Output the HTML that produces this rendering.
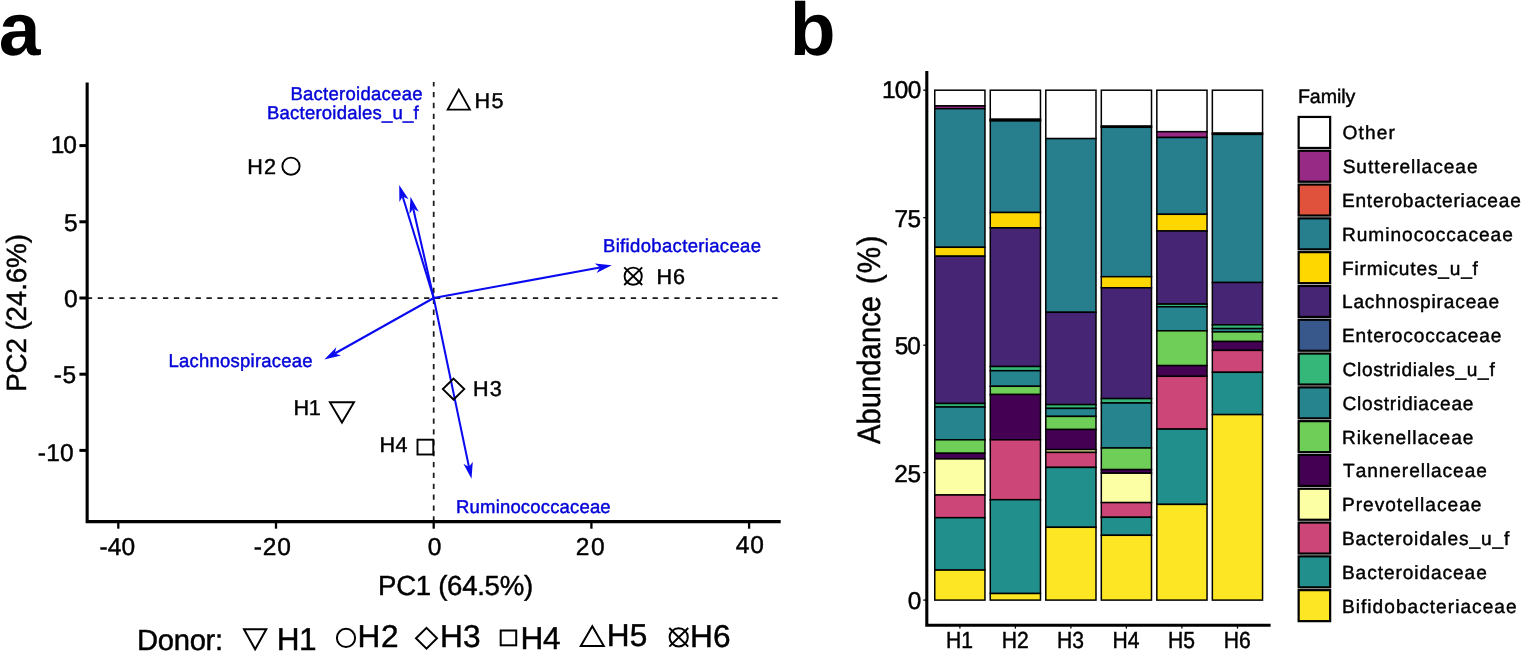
<!DOCTYPE html>
<html lang="en"><head><meta charset="utf-8"><title>Figure: PCA biplot and family abundance</title>
<style>
html,body{margin:0;padding:0;background:#fff;}
body{width:1522px;height:651px;overflow:hidden;}
svg{display:block;}
text{font-family:"Liberation Sans", Arial, Helvetica, sans-serif;fill:#000;white-space:pre;text-rendering:geometricPrecision;font-kerning:none;}
</style></head><body>
<svg width="1522" height="651" viewBox="0 0 1522 651">
<rect x="0" y="0" width="1522" height="651" fill="#fff"/>
<g id="panel-a">
<text x="-1.20" y="55.00" style="font-size:75px;font-weight:bold;">a</text>
<line x1="86.8" y1="298.0" x2="778.8" y2="298.0" stroke="#1a1a1a" stroke-width="1.75" stroke-dasharray="5.3 5.58"/>
<line x1="433.7" y1="521.6" x2="433.7" y2="81.9" stroke="#1a1a1a" stroke-width="1.75" stroke-dasharray="5.3 5.58"/>
<path d="M87.15 82.4 V521.60 H780.7" fill="none" stroke="#000" stroke-width="3.1" stroke-linejoin="miter" stroke-linecap="butt"/>
<line x1="79.4" y1="145.6" x2="87.2" y2="145.6" stroke="#000" stroke-width="3"/>
<text x="50.63" y="153.00" style="font-size:24.5px;letter-spacing:-1.028px;stroke:#000;stroke-width:0.45px;">10</text>
<line x1="79.4" y1="221.8" x2="87.2" y2="221.8" stroke="#000" stroke-width="3"/>
<text x="63.92" y="231.00" style="font-size:24.5px;stroke:#000;stroke-width:0.45px;">5</text>
<line x1="79.4" y1="298.0" x2="87.2" y2="298.0" stroke="#000" stroke-width="3"/>
<text x="63.94" y="307.00" style="font-size:24.5px;stroke:#000;stroke-width:0.45px;">0</text>
<line x1="79.4" y1="374.2" x2="87.2" y2="374.2" stroke="#000" stroke-width="3"/>
<text x="53.81" y="383.00" style="font-size:24.5px;letter-spacing:0.633px;stroke:#000;stroke-width:0.45px;">-5</text>
<line x1="79.4" y1="450.4" x2="87.2" y2="450.4" stroke="#000" stroke-width="3"/>
<text x="37.71" y="461.00" style="font-size:24.5px;letter-spacing:0.318px;stroke:#000;stroke-width:0.45px;">-10</text>
<line x1="118.3" y1="521.6" x2="118.3" y2="528.7" stroke="#000" stroke-width="2.3"/>
<text x="99.51" y="555.00" style="font-size:24.5px;letter-spacing:0.118px;stroke:#000;stroke-width:0.45px;">-40</text>
<line x1="276.0" y1="521.6" x2="276.0" y2="528.7" stroke="#000" stroke-width="2.3"/>
<text x="253.81" y="555.00" style="font-size:24.5px;letter-spacing:0.818px;stroke:#000;stroke-width:0.45px;">-20</text>
<line x1="433.7" y1="521.6" x2="433.7" y2="528.7" stroke="#000" stroke-width="2.3"/>
<text x="427.74" y="555.00" style="font-size:24.5px;stroke:#000;stroke-width:0.45px;">0</text>
<line x1="591.4" y1="521.6" x2="591.4" y2="528.7" stroke="#000" stroke-width="2.3"/>
<text x="575.87" y="555.00" style="font-size:24.5px;letter-spacing:1.638px;stroke:#000;stroke-width:0.45px;">20</text>
<line x1="749.1" y1="521.6" x2="749.1" y2="528.7" stroke="#000" stroke-width="2.3"/>
<text x="735.74" y="553.00" style="font-size:24.5px;letter-spacing:0.968px;stroke:#000;stroke-width:0.45px;">40</text>
<text x="378.04" y="595.00" style="font-size:27.6px;letter-spacing:-0.292px;stroke:#000;stroke-width:0.45px;">PC1 (64.5%)</text>
<text transform="translate(25.50 391.78) rotate(-90)" style="font-size:27.8px;letter-spacing:-0.144px;stroke:#000;stroke-width:0.45px;">PC2 (24.6%)</text>
<line x1="433.7" y1="298.0" x2="402.7" y2="196.5" stroke="#0a0af0" stroke-width="2.05"/>
<polygon points="399.2,185.0 408.6,199.3 402.7,196.5 399.4,202.1" fill="#0a0af0"/>
<line x1="433.7" y1="298.0" x2="413.2" y2="208.5" stroke="#0a0af0" stroke-width="2.05"/>
<polygon points="410.5,196.8 418.8,211.7 413.2,208.5 409.5,213.9" fill="#0a0af0"/>
<line x1="433.7" y1="298.0" x2="600.0" y2="267.5" stroke="#0a0af0" stroke-width="2.05"/>
<polygon points="611.8,265.3 596.5,273.0 600.0,267.5 594.8,263.5" fill="#0a0af0"/>
<line x1="433.7" y1="298.0" x2="334.8" y2="353.5" stroke="#0a0af0" stroke-width="2.05"/>
<polygon points="324.3,359.4 336.3,347.2 334.8,353.5 341.0,355.6" fill="#0a0af0"/>
<line x1="433.7" y1="298.0" x2="469.0" y2="467.1" stroke="#0a0af0" stroke-width="2.05"/>
<polygon points="471.5,478.8 463.4,463.7 469.0,467.1 472.8,461.8" fill="#0a0af0"/>
<text x="290.38" y="100.00" style="font-size:18.5px;letter-spacing:0.275px;fill:#0404d8;stroke:#0404d8;stroke-width:0.45px;">Bacteroidaceae</text>
<text x="266.98" y="119.00" style="font-size:18.5px;letter-spacing:0.224px;fill:#0404d8;stroke:#0404d8;stroke-width:0.45px;">Bacteroidales_u_f</text>
<text x="602.98" y="252.00" style="font-size:18.5px;letter-spacing:0.343px;fill:#0404d8;stroke:#0404d8;stroke-width:0.45px;">Bifidobacteriaceae</text>
<text x="168.48" y="367.00" style="font-size:18.5px;letter-spacing:0.231px;fill:#0404d8;stroke:#0404d8;stroke-width:0.45px;">Lachnospiraceae</text>
<text x="456.08" y="513.00" style="font-size:18.5px;letter-spacing:0.168px;fill:#0404d8;stroke:#0404d8;stroke-width:0.45px;">Ruminococcaceae</text>
<polygon points="329.9,402.3 354.0,402.3 341.95,422.6" fill="none" stroke="#000" stroke-width="1.9" stroke-linejoin="miter"/>
<text x="293.43" y="415.00" style="font-size:21.6px;letter-spacing:-0.185px;stroke:#000;stroke-width:0.45px;">H1</text>
<circle cx="291" cy="166.2" r="8.6" fill="none" stroke="#000" stroke-width="1.9"/>
<text x="247.23" y="174.00" style="font-size:21.6px;letter-spacing:1.146px;stroke:#000;stroke-width:0.45px;">H2</text>
<polygon points="453.55,378.65 464.25,389.1 453.55,399.55 442.85,389.1" fill="none" stroke="#000" stroke-width="1.9"/>
<text x="473.03" y="396.00" style="font-size:21.6px;letter-spacing:1.209px;stroke:#000;stroke-width:0.45px;">H3</text>
<rect x="417.5" y="439.7" width="15.8" height="14.8" fill="none" stroke="#000" stroke-width="1.9"/>
<text x="379.53" y="452.00" style="font-size:21.6px;letter-spacing:0.393px;stroke:#000;stroke-width:0.45px;">H4</text>
<polygon points="447.7,109.6 469.9,109.6 458.8,89.6" fill="none" stroke="#000" stroke-width="1.9" stroke-linejoin="miter"/>
<text x="474.53" y="108.00" style="font-size:21.6px;letter-spacing:1.367px;stroke:#000;stroke-width:0.45px;">H5</text>
<circle cx="633.2" cy="276.2" r="8.6" fill="none" stroke="#000" stroke-width="1.9"/>
<path d="M624.2 267.4 L642.2 285 M642.2 267.4 L624.2 285" fill="none" stroke="#000" stroke-width="1.9"/>
<text x="656.43" y="284.00" style="font-size:21.6px;letter-spacing:1.009px;stroke:#000;stroke-width:0.45px;">H6</text>
<text x="137.10" y="650.00" style="font-size:29.2px;letter-spacing:-0.316px;stroke:#000;stroke-width:0.45px;">Donor:</text>
<polygon points="244,629.3 266.3,629.3 255.15,649.3" fill="none" stroke="#000" stroke-width="2.0"/>
<text x="276.71" y="650.00" style="font-size:31.6px;letter-spacing:-0.600px;stroke:#000;stroke-width:0.45px;">H1</text>
<circle cx="346" cy="637.9" r="9.1" fill="none" stroke="#000" stroke-width="2.0"/>
<text x="357.61" y="647.00" style="font-size:31.6px;letter-spacing:0.587px;stroke:#000;stroke-width:0.45px;">H2</text>
<polygon points="426.5,627.9 437.0,638.3 426.5,648.7 416.0,638.3" fill="none" stroke="#000" stroke-width="2.0"/>
<text x="440.01" y="647.00" style="font-size:31.6px;letter-spacing:0.186px;stroke:#000;stroke-width:0.45px;">H3</text>
<rect x="500.7" y="630.5" width="15.5" height="14.8" fill="none" stroke="#000" stroke-width="2.0"/>
<text x="520.41" y="649.00" style="font-size:31.6px;letter-spacing:-0.277px;stroke:#000;stroke-width:0.45px;">H4</text>
<polygon points="580.8,645.9 603.8,645.9 592.3,626.3" fill="none" stroke="#000" stroke-width="2.0"/>
<text x="606.71" y="646.00" style="font-size:31.6px;letter-spacing:0.224px;stroke:#000;stroke-width:0.45px;">H5</text>
<circle cx="678.7" cy="637.3" r="9.1" fill="none" stroke="#000" stroke-width="2.0"/>
<path d="M669.3 628 L688.2 646.6 M688.2 628 L669.3 646.6" fill="none" stroke="#000" stroke-width="2.0"/>
<text x="690.01" y="647.00" style="font-size:31.6px;letter-spacing:0.186px;stroke:#000;stroke-width:0.45px;">H6</text>
</g>
<g id="panel-b">
<text x="789.66" y="55.00" style="font-size:75px;font-weight:bold;">b</text>
<g id="bar-H1">
<rect x="934.75" y="90.20" width="50.20" height="15.70" fill="#ffffff" stroke="#000" stroke-width="1.5"/>
<rect x="934.75" y="105.90" width="50.20" height="2.80" fill="#962a84" stroke="#000" stroke-width="1.5"/>
<rect x="934.75" y="108.70" width="50.20" height="138.60" fill="#277f8e" stroke="#000" stroke-width="1.5"/>
<rect x="934.75" y="247.30" width="50.20" height="8.90" fill="#ffd700" stroke="#000" stroke-width="1.5"/>
<rect x="934.75" y="256.20" width="50.20" height="147.30" fill="#472575" stroke="#000" stroke-width="1.5"/>
<rect x="934.75" y="403.50" width="50.20" height="3.50" fill="#35b779" stroke="#000" stroke-width="1.5"/>
<rect x="934.75" y="407.00" width="50.20" height="32.80" fill="#25848e" stroke="#000" stroke-width="1.5"/>
<rect x="934.75" y="439.80" width="50.20" height="13.50" fill="#6ece58" stroke="#000" stroke-width="1.5"/>
<rect x="934.75" y="453.30" width="50.20" height="5.60" fill="#440154" stroke="#000" stroke-width="1.5"/>
<rect x="934.75" y="458.90" width="50.20" height="36.10" fill="#fcffa4" stroke="#000" stroke-width="1.5"/>
<rect x="934.75" y="495.00" width="50.20" height="22.70" fill="#cc4778" stroke="#000" stroke-width="1.5"/>
<rect x="934.75" y="517.70" width="50.20" height="52.40" fill="#21908c" stroke="#000" stroke-width="1.5"/>
<rect x="934.75" y="570.10" width="50.20" height="30.00" fill="#fde725" stroke="#000" stroke-width="1.5"/>
</g>
<line x1="959.9" y1="625.3" x2="959.9" y2="628.6" stroke="#000" stroke-width="1.3"/>
<text transform="translate(946.11 648.00) scale(0.9100 1)" style="font-size:23.2px;stroke:#000;stroke-width:0.45px;">H1</text>
<g id="bar-H2">
<rect x="990.27" y="90.20" width="50.20" height="29.10" fill="#ffffff" stroke="#000" stroke-width="1.5"/>
<rect x="990.27" y="119.30" width="50.20" height="0.80" fill="#962a84" stroke="#000" stroke-width="1.5"/>
<rect x="990.27" y="120.10" width="50.20" height="0.80" fill="#e0523b" stroke="#000" stroke-width="1.5"/>
<rect x="990.27" y="120.90" width="50.20" height="91.60" fill="#277f8e" stroke="#000" stroke-width="1.5"/>
<rect x="990.27" y="212.50" width="50.20" height="15.40" fill="#ffd700" stroke="#000" stroke-width="1.5"/>
<rect x="990.27" y="227.90" width="50.20" height="138.60" fill="#472575" stroke="#000" stroke-width="1.5"/>
<rect x="990.27" y="366.50" width="50.20" height="4.20" fill="#35b779" stroke="#000" stroke-width="1.5"/>
<rect x="990.27" y="370.70" width="50.20" height="15.60" fill="#25848e" stroke="#000" stroke-width="1.5"/>
<rect x="990.27" y="386.30" width="50.20" height="8.20" fill="#6ece58" stroke="#000" stroke-width="1.5"/>
<rect x="990.27" y="394.50" width="50.20" height="45.30" fill="#440154" stroke="#000" stroke-width="1.5"/>
<rect x="990.27" y="439.80" width="50.20" height="59.90" fill="#cc4778" stroke="#000" stroke-width="1.5"/>
<rect x="990.27" y="499.70" width="50.20" height="93.80" fill="#21908c" stroke="#000" stroke-width="1.5"/>
<rect x="990.27" y="593.50" width="50.20" height="6.60" fill="#fde725" stroke="#000" stroke-width="1.5"/>
</g>
<line x1="1015.4" y1="625.3" x2="1015.4" y2="628.6" stroke="#000" stroke-width="1.3"/>
<text transform="translate(1001.64 648.00) scale(0.9100 1)" style="font-size:23.2px;stroke:#000;stroke-width:0.45px;">H2</text>
<g id="bar-H3">
<rect x="1045.79" y="90.20" width="50.20" height="48.40" fill="#ffffff" stroke="#000" stroke-width="1.5"/>
<rect x="1045.79" y="138.60" width="50.20" height="173.70" fill="#277f8e" stroke="#000" stroke-width="1.5"/>
<rect x="1045.79" y="312.30" width="50.20" height="92.30" fill="#472575" stroke="#000" stroke-width="1.5"/>
<rect x="1045.79" y="404.60" width="50.20" height="3.80" fill="#35b779" stroke="#000" stroke-width="1.5"/>
<rect x="1045.79" y="408.40" width="50.20" height="8.00" fill="#25848e" stroke="#000" stroke-width="1.5"/>
<rect x="1045.79" y="416.40" width="50.20" height="13.10" fill="#6ece58" stroke="#000" stroke-width="1.5"/>
<rect x="1045.79" y="429.50" width="50.20" height="20.10" fill="#440154" stroke="#000" stroke-width="1.5"/>
<rect x="1045.79" y="449.60" width="50.20" height="2.80" fill="#fcffa4" stroke="#000" stroke-width="1.5"/>
<rect x="1045.79" y="452.40" width="50.20" height="15.00" fill="#cc4778" stroke="#000" stroke-width="1.5"/>
<rect x="1045.79" y="467.40" width="50.20" height="59.90" fill="#21908c" stroke="#000" stroke-width="1.5"/>
<rect x="1045.79" y="527.30" width="50.20" height="72.80" fill="#fde725" stroke="#000" stroke-width="1.5"/>
</g>
<line x1="1070.9" y1="625.3" x2="1070.9" y2="628.6" stroke="#000" stroke-width="1.3"/>
<text transform="translate(1057.09 648.00) scale(0.9100 1)" style="font-size:23.2px;stroke:#000;stroke-width:0.45px;">H3</text>
<g id="bar-H4">
<rect x="1101.31" y="90.20" width="50.20" height="36.00" fill="#ffffff" stroke="#000" stroke-width="1.5"/>
<rect x="1101.31" y="126.20" width="50.20" height="1.10" fill="#962a84" stroke="#000" stroke-width="1.5"/>
<rect x="1101.31" y="127.30" width="50.20" height="149.40" fill="#277f8e" stroke="#000" stroke-width="1.5"/>
<rect x="1101.31" y="276.70" width="50.20" height="11.10" fill="#ffd700" stroke="#000" stroke-width="1.5"/>
<rect x="1101.31" y="287.80" width="50.20" height="110.80" fill="#472575" stroke="#000" stroke-width="1.5"/>
<rect x="1101.31" y="398.60" width="50.20" height="4.40" fill="#35b779" stroke="#000" stroke-width="1.5"/>
<rect x="1101.31" y="403.00" width="50.20" height="45.00" fill="#25848e" stroke="#000" stroke-width="1.5"/>
<rect x="1101.31" y="448.00" width="50.20" height="21.60" fill="#6ece58" stroke="#000" stroke-width="1.5"/>
<rect x="1101.31" y="469.60" width="50.20" height="3.60" fill="#440154" stroke="#000" stroke-width="1.5"/>
<rect x="1101.31" y="473.20" width="50.20" height="29.40" fill="#fcffa4" stroke="#000" stroke-width="1.5"/>
<rect x="1101.31" y="502.60" width="50.20" height="14.70" fill="#cc4778" stroke="#000" stroke-width="1.5"/>
<rect x="1101.31" y="517.30" width="50.20" height="18.00" fill="#21908c" stroke="#000" stroke-width="1.5"/>
<rect x="1101.31" y="535.30" width="50.20" height="64.80" fill="#fde725" stroke="#000" stroke-width="1.5"/>
</g>
<line x1="1126.4" y1="625.3" x2="1126.4" y2="628.6" stroke="#000" stroke-width="1.3"/>
<text transform="translate(1112.46 648.00) scale(0.9100 1)" style="font-size:23.2px;stroke:#000;stroke-width:0.45px;">H4</text>
<g id="bar-H5">
<rect x="1156.83" y="90.20" width="50.20" height="41.50" fill="#ffffff" stroke="#000" stroke-width="1.5"/>
<rect x="1156.83" y="131.70" width="50.20" height="5.80" fill="#962a84" stroke="#000" stroke-width="1.5"/>
<rect x="1156.83" y="137.50" width="50.20" height="76.80" fill="#277f8e" stroke="#000" stroke-width="1.5"/>
<rect x="1156.83" y="214.30" width="50.20" height="16.70" fill="#ffd700" stroke="#000" stroke-width="1.5"/>
<rect x="1156.83" y="231.00" width="50.20" height="73.10" fill="#472575" stroke="#000" stroke-width="1.5"/>
<rect x="1156.83" y="304.10" width="50.20" height="2.70" fill="#35b779" stroke="#000" stroke-width="1.5"/>
<rect x="1156.83" y="306.80" width="50.20" height="24.00" fill="#25848e" stroke="#000" stroke-width="1.5"/>
<rect x="1156.83" y="330.80" width="50.20" height="34.80" fill="#6ece58" stroke="#000" stroke-width="1.5"/>
<rect x="1156.83" y="365.60" width="50.20" height="10.70" fill="#440154" stroke="#000" stroke-width="1.5"/>
<rect x="1156.83" y="376.30" width="50.20" height="52.80" fill="#cc4778" stroke="#000" stroke-width="1.5"/>
<rect x="1156.83" y="429.10" width="50.20" height="75.30" fill="#21908c" stroke="#000" stroke-width="1.5"/>
<rect x="1156.83" y="504.40" width="50.20" height="95.70" fill="#fde725" stroke="#000" stroke-width="1.5"/>
</g>
<line x1="1181.9" y1="625.3" x2="1181.9" y2="628.6" stroke="#000" stroke-width="1.3"/>
<text transform="translate(1168.11 648.00) scale(0.9100 1)" style="font-size:23.2px;stroke:#000;stroke-width:0.45px;">H5</text>
<g id="bar-H6">
<rect x="1212.35" y="90.20" width="50.20" height="43.00" fill="#ffffff" stroke="#000" stroke-width="1.5"/>
<rect x="1212.35" y="133.20" width="50.20" height="1.20" fill="#962a84" stroke="#000" stroke-width="1.5"/>
<rect x="1212.35" y="134.40" width="50.20" height="148.10" fill="#277f8e" stroke="#000" stroke-width="1.5"/>
<rect x="1212.35" y="282.50" width="50.20" height="42.30" fill="#472575" stroke="#000" stroke-width="1.5"/>
<rect x="1212.35" y="324.80" width="50.20" height="3.80" fill="#35b779" stroke="#000" stroke-width="1.5"/>
<rect x="1212.35" y="328.60" width="50.20" height="3.30" fill="#25848e" stroke="#000" stroke-width="1.5"/>
<rect x="1212.35" y="331.90" width="50.20" height="9.60" fill="#6ece58" stroke="#000" stroke-width="1.5"/>
<rect x="1212.35" y="341.50" width="50.20" height="8.90" fill="#440154" stroke="#000" stroke-width="1.5"/>
<rect x="1212.35" y="350.40" width="50.20" height="21.90" fill="#cc4778" stroke="#000" stroke-width="1.5"/>
<rect x="1212.35" y="372.30" width="50.20" height="42.30" fill="#21908c" stroke="#000" stroke-width="1.5"/>
<rect x="1212.35" y="414.60" width="50.20" height="185.50" fill="#fde725" stroke="#000" stroke-width="1.5"/>
</g>
<line x1="1237.5" y1="625.3" x2="1237.5" y2="628.6" stroke="#000" stroke-width="1.3"/>
<text transform="translate(1223.65 648.00) scale(0.9100 1)" style="font-size:23.2px;stroke:#000;stroke-width:0.45px;">H6</text>
<path d="M926.80 71.1 V625.30 H1270.6" fill="none" stroke="#000" stroke-width="3.1" stroke-linejoin="miter"/>
<line x1="923.3" y1="90.2" x2="926.8" y2="90.2" stroke="#000" stroke-width="1.3"/>
<text x="881.94" y="98.00" style="font-size:24.4px;letter-spacing:-0.699px;stroke:#000;stroke-width:0.45px;">100</text>
<line x1="923.3" y1="217.7" x2="926.8" y2="217.7" stroke="#000" stroke-width="1.3"/>
<text x="894.55" y="227.00" style="font-size:24.4px;letter-spacing:-0.565px;stroke:#000;stroke-width:0.45px;">75</text>
<line x1="923.3" y1="345.2" x2="926.8" y2="345.2" stroke="#000" stroke-width="1.3"/>
<text x="894.72" y="354.00" style="font-size:24.4px;letter-spacing:-1.010px;stroke:#000;stroke-width:0.45px;">50</text>
<line x1="923.3" y1="472.6" x2="926.8" y2="472.6" stroke="#000" stroke-width="1.3"/>
<text x="894.17" y="482.00" style="font-size:24.4px;letter-spacing:-0.188px;stroke:#000;stroke-width:0.45px;">25</text>
<line x1="923.3" y1="600.1" x2="926.8" y2="600.1" stroke="#000" stroke-width="1.3"/>
<text x="907.75" y="609.00" style="font-size:24.4px;stroke:#000;stroke-width:0.45px;">0</text>
<text transform="translate(880.00 443.96) rotate(-90) scale(0.9000 1)" style="font-size:32.3px;letter-spacing:0.118px;stroke:#000;stroke-width:0.45px;">Abundance</text>
<text transform="translate(880.00 284.34) rotate(-90) scale(0.9200 1)" style="font-size:32.3px;letter-spacing:1.343px;stroke:#000;stroke-width:0.45px;">(%)</text>
<text x="1297.89" y="103.00" style="font-size:19.6px;letter-spacing:-0.053px;stroke:#000;stroke-width:0.45px;">Family</text>
<rect x="1298.65" y="116.95" width="31.5" height="31.0" fill="#ffffff" stroke="#000" stroke-width="2.2"/>
<text x="1342.60" y="139.00" style="font-size:19.1px;letter-spacing:1.113px;stroke:#000;stroke-width:0.45px;">Other</text>
<rect x="1298.65" y="150.75" width="31.5" height="31.0" fill="#962a84" stroke="#000" stroke-width="2.2"/>
<text x="1342.63" y="173.00" style="font-size:19.1px;letter-spacing:0.985px;stroke:#000;stroke-width:0.45px;">Sutterellaceae</text>
<rect x="1298.65" y="184.55" width="31.5" height="31.0" fill="#e0523b" stroke="#000" stroke-width="2.2"/>
<text x="1341.93" y="207.00" style="font-size:19.1px;letter-spacing:0.781px;stroke:#000;stroke-width:0.45px;">Enterobacteriaceae</text>
<rect x="1298.65" y="218.35" width="31.5" height="31.0" fill="#277f8e" stroke="#000" stroke-width="2.2"/>
<text x="1341.93" y="241.00" style="font-size:19.1px;letter-spacing:0.985px;stroke:#000;stroke-width:0.45px;">Ruminococcaceae</text>
<rect x="1298.65" y="252.15" width="31.5" height="31.0" fill="#ffd700" stroke="#000" stroke-width="2.2"/>
<text x="1341.93" y="275.00" style="font-size:19.1px;letter-spacing:0.830px;stroke:#000;stroke-width:0.45px;">Firmicutes_u_f</text>
<rect x="1298.65" y="285.95" width="31.5" height="31.0" fill="#472575" stroke="#000" stroke-width="2.2"/>
<text x="1341.93" y="308.00" style="font-size:19.1px;letter-spacing:0.845px;stroke:#000;stroke-width:0.45px;">Lachnospiraceae</text>
<rect x="1298.65" y="319.75" width="31.5" height="31.0" fill="#38588c" stroke="#000" stroke-width="2.2"/>
<text x="1341.93" y="342.00" style="font-size:19.1px;letter-spacing:0.852px;stroke:#000;stroke-width:0.45px;">Enterococcaceae</text>
<rect x="1298.65" y="353.55" width="31.5" height="31.0" fill="#35b779" stroke="#000" stroke-width="2.2"/>
<text x="1342.53" y="376.00" style="font-size:19.1px;letter-spacing:0.690px;stroke:#000;stroke-width:0.45px;">Clostridiales_u_f</text>
<rect x="1298.65" y="387.35" width="31.5" height="31.0" fill="#25848e" stroke="#000" stroke-width="2.2"/>
<text x="1342.53" y="410.00" style="font-size:19.1px;letter-spacing:0.761px;stroke:#000;stroke-width:0.45px;">Clostridiaceae</text>
<rect x="1298.65" y="421.15" width="31.5" height="31.0" fill="#6ece58" stroke="#000" stroke-width="2.2"/>
<text x="1341.93" y="444.00" style="font-size:19.1px;letter-spacing:0.961px;stroke:#000;stroke-width:0.45px;">Rikenellaceae</text>
<rect x="1298.65" y="454.95" width="31.5" height="31.0" fill="#440154" stroke="#000" stroke-width="2.2"/>
<text x="1343.07" y="477.00" style="font-size:19.1px;letter-spacing:0.932px;stroke:#000;stroke-width:0.45px;">Tannerellaceae</text>
<rect x="1298.65" y="488.75" width="31.5" height="31.0" fill="#fcffa4" stroke="#000" stroke-width="2.2"/>
<text x="1341.93" y="511.00" style="font-size:19.1px;letter-spacing:1.013px;stroke:#000;stroke-width:0.45px;">Prevotellaceae</text>
<rect x="1298.65" y="522.55" width="31.5" height="31.0" fill="#cc4778" stroke="#000" stroke-width="2.2"/>
<text x="1341.93" y="545.00" style="font-size:19.1px;letter-spacing:0.909px;stroke:#000;stroke-width:0.45px;">Bacteroidales_u_f</text>
<rect x="1298.65" y="556.35" width="31.5" height="31.0" fill="#21908c" stroke="#000" stroke-width="2.2"/>
<text x="1341.93" y="579.00" style="font-size:19.1px;letter-spacing:0.937px;stroke:#000;stroke-width:0.45px;">Bacteroidaceae</text>
<rect x="1298.65" y="590.15" width="31.5" height="31.0" fill="#fde725" stroke="#000" stroke-width="2.2"/>
<text x="1341.93" y="613.00" style="font-size:19.1px;letter-spacing:1.033px;stroke:#000;stroke-width:0.45px;">Bifidobacteriaceae</text>
</g>
</svg>
</body></html>
